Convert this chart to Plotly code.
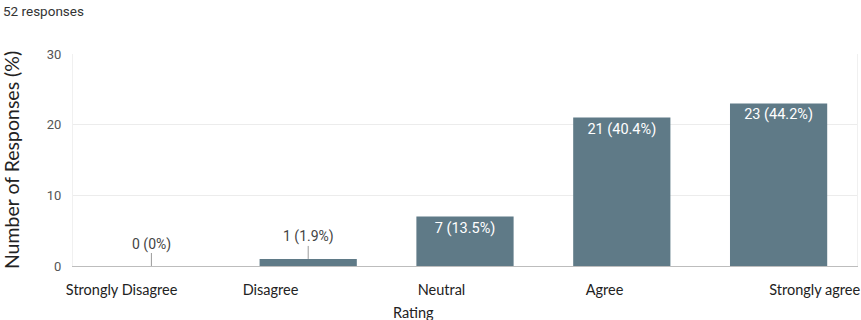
import plotly.graph_objects as go

# Survey ratings and response counts
categories = ["Strongly Disagree", "Disagree", "Neutral", "Agree", "Strongly agree"]
counts = [0, 1, 7, 21, 23]
percents = ["0%", "1.9%", "13.5%", "40.4%", "44.2%"]
total_responses = 52
y_ticks = [0, 10, 20, 30]

# horizontal shift of each category label relative to its bar
label_shift = [-0.19, -0.24, -0.15, -0.11, 0.23]

bar_color = "#5f7a87"
labels = [f"{c} ({p})" for c, p in zip(counts, percents)]
positions = list(range(len(categories)))

# big bars carry their label inside, small ones get a callout above
inside_text = [t if c >= 5 else "" for t, c in zip(labels, counts)]

fig = go.Figure()
fig.add_trace(go.Bar(
    x=positions,
    y=counts,
    width=0.62,
    marker=dict(color=bar_color, line=dict(width=0)),
    text=inside_text,
    textposition="inside",
    insidetextanchor="end",
    textangle=0,
    textfont=dict(family="Roboto, Arial, sans-serif", size=14.5, color="white"),
    hoverinfo="skip",
))

for pos, c, t in zip(positions, counts, labels):
    if c < 5:
        fig.add_annotation(
            x=pos, y=c, xref="x", yref="y",
            text=t, showarrow=True, arrowhead=0, arrowwidth=1,
            arrowcolor="#9a9a9a", ax=0, ay=-22, borderpad=0,
            font=dict(family="Roboto, Arial, sans-serif", size=14, color="#444"),
        )

fig.add_annotation(
    x=0.0, y=1.0, xref="paper", yref="paper",
    xanchor="left", yanchor="top", showarrow=False,
    text=f"{total_responses} responses", xshift=-72, yshift=53,
    font=dict(family="Roboto, Arial, sans-serif", size=13.5, color="#333"),
)

fig.add_annotation(
    x=0.5, y=0, xref="paper", yref="paper",
    xanchor="center", yanchor="top", showarrow=False,
    text="Rating", xshift=-52, yshift=-36,
    font=dict(family="Lato, sans-serif", size=14.5, color="#222"),
)

fig.update_layout(
    width=861, height=320,
    margin=dict(l=73, r=4, t=54, b=54),
    paper_bgcolor="white", plot_bgcolor="white",
    showlegend=False,
    bargap=0.38,
    xaxis=dict(
        range=[-0.5, len(categories) - 0.5],
        automargin=False,
        tickvals=[p + s for p, s in zip(positions, label_shift)],
        ticktext=categories,
        ticks="outside", ticklen=11, tickcolor="rgba(0,0,0,0)",
        tickfont=dict(family="Lato, sans-serif", size=14.5, color="#222"),
        showgrid=False, zeroline=False,
        showline=True, linecolor="#bdbdbd", linewidth=1,
    ),
    yaxis=dict(
        range=[0, 30],
        automargin=False,
        tickvals=y_ticks,
        tickfont=dict(family="Roboto, Arial, sans-serif", size=13, color="#555"),
        showgrid=True, gridcolor="#ececec", gridwidth=1,
        zeroline=False,
        showline=True, linecolor="#f0f0f0", mirror=True,
        ticks="", ticklabelstandoff=8,
        title=dict(text="Number of Responses (%)",
                   font=dict(family="Lato, sans-serif", size=19.5, color="#222"),
                   standoff=21),
    ),
)

fig.write_html("out.html")
